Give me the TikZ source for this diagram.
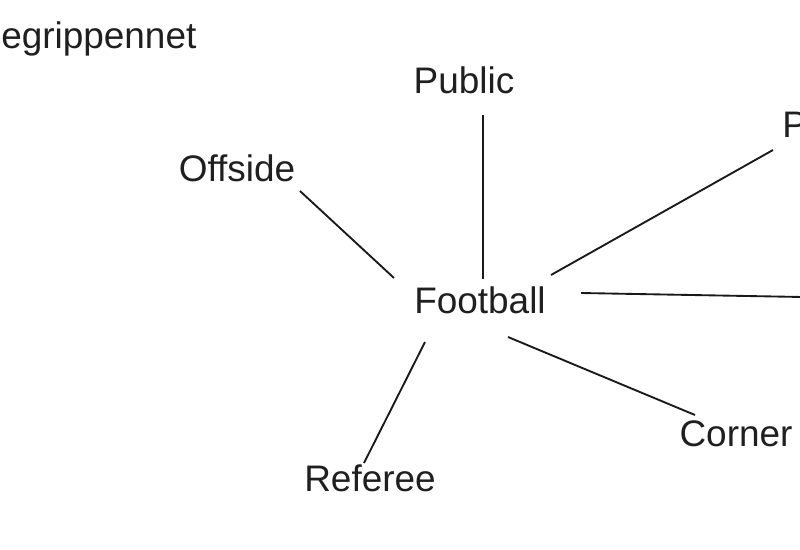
\documentclass[tikz,border=0pt]{standalone}
\usepackage{fontspec}
\setmainfont{Liberation Sans}
\usetikzlibrary{calc}
\begin{document}
\begin{tikzpicture}[x=0.75pt,y=-0.75pt,
  lbl/.style={font=\fontsize{27.7}{33}\selectfont, inner sep=0pt, text=black!88},
  link/.style={line width=1.4pt, draw=black!90}]
\useasboundingbox (0,0) rectangle (800,550);
\clip (0,0) rectangle (800,550);
% nodes
\node[lbl, anchor=base west] (title) at (1,48) {egrippennet};
\node[lbl, anchor=base] (football) at (480,313) {Football};
\node[lbl, anchor=base] (public) at (464,93) {Public};
\node[lbl, anchor=base] (offside) at (237,181) {Offside};
\node[lbl, anchor=base west] (p) at (782,137) {P};
\node[lbl, anchor=base] (corner) at (736,446) {Corner};
\node[lbl, anchor=base] (referee) at (370,491) {Referee};
\coordinate (rightend) at (830,297.5);
% connectors
\draw[link] ($(football.base)+(3,-34)$) -- ($(public.base)+(19,22)$);
\draw[link] ($(football.base)+(-86,-35)$) -- ($(offside.base)+(63,10)$);
\draw[link] ($(football.base)+(71,-38)$) -- ($(p.base west)+(-9,13)$);
\draw[link] ($(football.base)+(101,-20)$) -- (rightend);
\draw[link] ($(football.base)+(28,24)$) -- ($(corner.base)+(-41,-31)$);
\draw[link] ($(football.base)+(-55,29)$) -- ($(referee.base)+(-6,-28)$);
\end{tikzpicture}
\end{document}
